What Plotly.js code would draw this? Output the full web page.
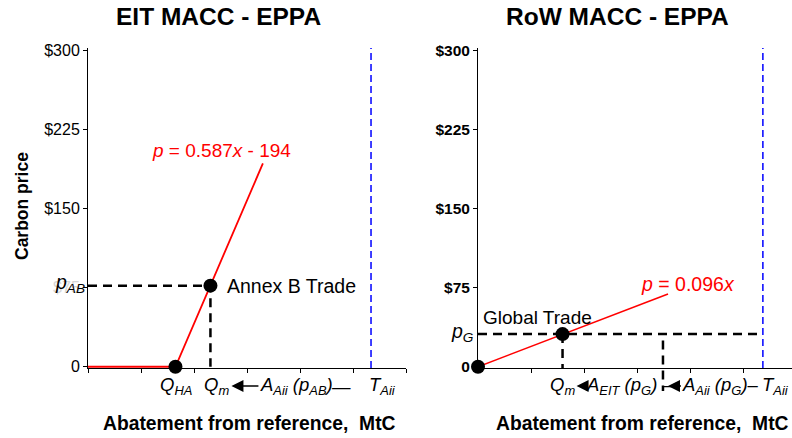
<!DOCTYPE html>
<html>
<head>
<meta charset="utf-8">
<script src="https://cdn.plot.ly/plotly-3.0.1.min.js"></script>
<style>html,body{margin:0;padding:0;background:#fff;}#chart{width:792px;height:438px;}</style>
</head>
<body>
<div id="chart"></div>
<script>
// ---- data ----
const EIT_SLOPE = 0.587;
const EIT_INTERCEPT = 194;
const ROW_SLOPE = 0.096;

const eitCurveX = [0, 330, 660];
const eitCurveP = [0, 0, 193];
const eitPointsX = [330, 462];      // Q_HA, Q_m
const eitPointsP = [0, 77];         // 0, p_AB
const eitTarget = 1068;             // T_Aii

const rowCurveX = [0, 717];
const rowCurveP = [0, 69];
const rowPointsX = [0, 319];        // origin, Q_m
const rowPointsP = [0, 31];         // 0, p_G
const rowTarget = 1075;             // T_Aii
const rowSplitX = 698;              // A_EIT / A_Aii boundary
const rowSplitTop = 25;
const rowSplitBottom = -23;

const yTickVals = [0, 75, 150, 225, 300];
const yTickTextLeft = ['0', '<span style="color:#d6d6d6">$75</span>', '$150', '$225', '$300'];
const yTickTextRight = ['0', '$75', '$150', '$225', '$300'];

const titles = ['EIT MACC - EPPA', 'RoW MACC - EPPA'];
const xTitle = 'Abatement from reference,  MtC';
const yTitle = 'Carbon price';

// ---- layout helpers ----
const W = 792, H = 438;
const FONT = 'Liberation Sans, Arial, sans-serif';
const Y_MIN = -1.2, Y_MAX = 302.6;
const yFrac = v => (v - Y_MIN) / (Y_MAX - Y_MIN);
const px = v => v / W;
const py = v => (H - v) / H;
const dashBlack = {color: '#000', width: 2.5, dash: '9px,6px'};
const dashBlue = {color: '#0000ff', width: 1.5, dash: '7px,4px'};

const traces = [
  // left panel
  {x: eitCurveX, y: eitCurveP, xaxis: 'x', yaxis: 'y', mode: 'lines', line: {color: '#ff0000', width: 1.8}},
  {x: [0, eitPointsX[1], eitPointsX[1]], y: [eitPointsP[1], eitPointsP[1], 0], xaxis: 'x', yaxis: 'y', mode: 'lines', line: dashBlack},
  {x: [eitTarget, eitTarget], y: [Y_MIN, Y_MAX], xaxis: 'x', yaxis: 'y', mode: 'lines', line: dashBlue},
  {x: eitPointsX, y: eitPointsP, xaxis: 'x', yaxis: 'y', mode: 'markers', marker: {color: '#000', size: 14}, cliponaxis: false},
  // right panel
  {x: rowCurveX, y: rowCurveP, xaxis: 'x2', yaxis: 'y2', mode: 'lines', line: {color: '#ff0000', width: 1.6}},
  {x: [0, rowTarget], y: [rowPointsP[1], rowPointsP[1]], xaxis: 'x2', yaxis: 'y2', mode: 'lines', line: dashBlack},
  {x: [rowPointsX[1], rowPointsX[1]], y: [rowPointsP[1], Y_MIN], xaxis: 'x2', yaxis: 'y2', mode: 'lines', line: dashBlack},
  {x: [rowTarget, rowTarget], y: [Y_MIN, Y_MAX], xaxis: 'x2', yaxis: 'y2', mode: 'lines', line: dashBlue},
  {x: rowPointsX, y: rowPointsP, xaxis: 'x2', yaxis: 'y2', mode: 'markers', marker: {color: '#000', size: 14}, cliponaxis: false}
];

const xBase = {showline: true, linecolor: '#000', linewidth: 1, ticks: 'outside', ticklen: 4, tickcolor: '#000',
  dtick: 200, tick0: 0, showticklabels: false, showgrid: false, zeroline: false, fixedrange: true, layer: 'below traces'};
const yBase = {showline: true, linecolor: '#000', linewidth: 1, ticks: 'outside', ticklen: 4, tickcolor: '#000',
  tickmode: 'array', tickvals: yTickVals, range: [Y_MIN, Y_MAX], domain: [py(368), py(48)],
  showgrid: false, zeroline: false, fixedrange: true, layer: 'below traces'};

const rowY = py(386);
const txt = {family: FONT, size: 18.5, color: '#000'};
const C = {xanchor: 'center', yanchor: 'middle', showarrow: false};
const ARW = {showarrow: true, ay: 0, arrowhead: 2, arrowsize: 1.5, arrowwidth: 1.6, arrowcolor: '#000', xanchor: 'center', yanchor: 'middle'};
const ann = [
  Object.assign({text: '<b>' + titles[0] + '</b>', xref: 'paper', yref: 'paper', x: px(218), y: py(17), font: {family: FONT, size: 24.5, color: '#000'}}, C),
  Object.assign({text: '<b>' + titles[1] + '</b>', xref: 'paper', yref: 'paper', x: px(617), y: py(17), font: {family: FONT, size: 24.5, color: '#000'}}, C),
  Object.assign({text: '<b>' + xTitle + '</b>', xref: 'paper', yref: 'paper', x: px(250), y: py(423), font: {family: FONT, size: 19.3, color: '#000'}}, C),
  Object.assign({text: '<b>' + xTitle + '</b>', xref: 'paper', yref: 'paper', x: px(642), y: py(423), font: {family: FONT, size: 19.3, color: '#000'}}, C),
  Object.assign({text: '<b>' + yTitle + '</b>', xref: 'paper', yref: 'paper', x: px(22), y: py(206), textangle: -90, font: {family: FONT, size: 17.5, color: '#000'}}, C),
  // left panel labels
  Object.assign({text: '<i>p</i> = ' + EIT_SLOPE + '<i>x</i> - ' + EIT_INTERCEPT, xref: 'x', yref: 'y', x: 502, y: 205, font: {family: FONT, size: 19, color: '#ff0000'}}, C),
  Object.assign({text: 'Annex B Trade', xref: 'x', yref: 'y', x: eitPointsX[1], y: eitPointsP[1], font: {family: FONT, size: 19.5, color: '#000'}}, C, {xanchor: 'left', xshift: 15}),
  Object.assign({text: '<i>p<sub>AB</sub></i>', xref: 'paper', yref: 'y', x: px(87), y: eitPointsP[1], yshift: 2, font: {family: FONT, size: 19.5, color: '#000'}}, C, {xanchor: 'right'}),
  Object.assign({text: '<i>Q<sub>HA</sub></i>', xref: 'x', yref: 'paper', x: eitPointsX[0], y: rowY, xshift: 1, font: txt}, C),
  Object.assign({text: '<i>Q<sub>m</sub></i>', xref: 'x', yref: 'paper', x: eitPointsX[1], y: rowY, xshift: 6, font: txt}, C),
  Object.assign({text: '<i>A<sub>Aii</sub> (p<sub>AB</sub>)</i>', xref: 'x', yref: 'paper', x: eitPointsX[1], y: rowY, xshift: 21, ax: 65, font: txt}, ARW),
  Object.assign({text: '—', xref: 'x', yref: 'paper', x: eitTarget, y: rowY, xshift: -30, font: txt}, C),
  Object.assign({text: '<i>T<sub>Aii</sub></i>', xref: 'x', yref: 'paper', x: eitTarget, y: rowY, xshift: -4, font: txt}, C, {xanchor: 'left'}),
  // right panel labels
  Object.assign({text: '<i>p</i> = ' + ROW_SLOPE + '<i>x</i>', xref: 'x2', yref: 'y2', x: 792, y: 79, font: {family: FONT, size: 19.5, color: '#ff0000'}}, C),
  Object.assign({text: 'Global Trade', xref: 'x2', yref: 'y2', x: 0, y: 46.5, xshift: 3, font: {family: FONT, size: 19, color: '#000'}}, C, {xanchor: 'left'}),
  Object.assign({text: '<i>p<sub>G</sub></i>', xref: 'paper', yref: 'y2', x: px(476), y: rowPointsP[1], yshift: 2, font: {family: FONT, size: 19.5, color: '#000'}}, C, {xanchor: 'right'}),
  Object.assign({text: '<i>Q<sub>m</sub></i>', xref: 'x2', yref: 'paper', x: rowPointsX[1], y: rowY, xshift: 0, font: txt}, C),
  Object.assign({text: '<i>A<sub>EIT</sub> (p<sub>G</sub>)</i> –', xref: 'x2', yref: 'paper', x: rowPointsX[1], y: rowY, xshift: 14, ax: 53, font: txt}, ARW),
  Object.assign({text: '<i>A<sub>Aii</sub> (p<sub>G</sub>)</i>–', xref: 'x2', yref: 'paper', x: rowSplitX, y: rowY, xshift: 5, ax: 53, font: txt}, ARW),
  Object.assign({text: '<i>T<sub>Aii</sub></i>', xref: 'x2', yref: 'paper', x: rowTarget, y: rowY, xshift: -3, font: txt}, C, {xanchor: 'left'})
];

const layout = {
  width: W, height: H, autosize: false,
  margin: {l: 0, r: 0, t: 0, b: 0},
  paper_bgcolor: '#fff', plot_bgcolor: '#fff',
  showlegend: false,
  font: {family: FONT, color: '#000'},
  xaxis: Object.assign({}, xBase, {domain: [px(88), px(406)], range: [0, 1200], anchor: 'y'}),
  yaxis: Object.assign({}, yBase, {anchor: 'x', ticktext: yTickTextLeft, tickfont: {family: FONT, size: 16, color: '#000'}}),
  xaxis2: Object.assign({}, xBase, {domain: [px(478), 1], range: [0, (792 - 478) / 0.265], anchor: 'y2'}),
  yaxis2: Object.assign({}, yBase, {anchor: 'x2', ticktext: yTickTextRight, tickfont: {family: FONT, size: 15.5, color: '#000', weight: 'bold'}}),
  shapes: [
    {type: 'line', xref: 'x2', yref: 'y2 domain', x0: rowSplitX, x1: rowSplitX,
     y0: yFrac(rowSplitTop), y1: yFrac(rowSplitBottom), line: dashBlack, layer: 'above'}
  ],
  annotations: ann
};

Plotly.newPlot('chart', traces, layout, {displayModeBar: false, staticPlot: true});
</script>
</body>
</html>
